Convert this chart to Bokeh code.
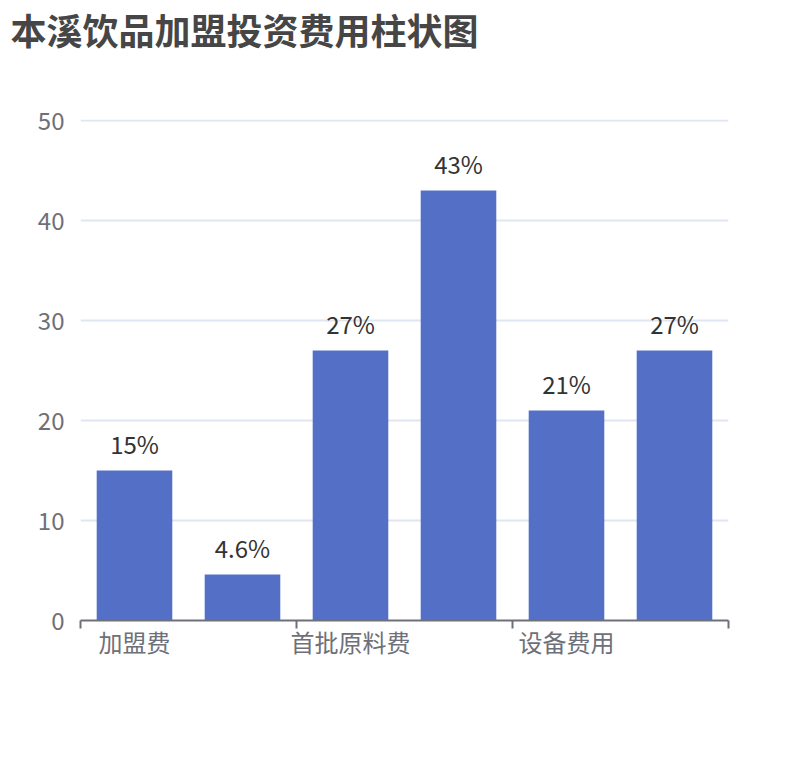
from bokeh.plotting import figure
from bokeh.layouts import column
from bokeh.models import ColumnDataSource, FixedTicker, Range1d
from bokeh.core.properties import value
from bokeh.embed import file_html
from bokeh.resources import INLINE

title = "本溪饮品加盟投资费用柱状图"
categories = ["加盟费", "保证金", "首批原料费", "装修费用", "设备费用", "其他费用"]
amounts = [15, 4.6, 27, 43, 21, 27]
y_ticks = [0, 10, 20, 30, 40, 50]
label_every = 2

FONT = "Noto Sans CJK SC"
AXIS_GRAY = "#6e7079"
WIDTH = 788

# title strip; its frame lines up with the chart below, so shift the title left
head = figure(width=WIDTH, height=99, min_border=0,
              x_axis_location=None, y_axis_location=None,
              x_range=Range1d(0, 1), y_range=Range1d(0, 1),
              output_backend="svg", toolbar_location=None, tools="")
head.grid.visible = False
head.outline_line_color = None
head.title.text = title
head.title.align = "left"
head.title.offset = -70
head.title.standoff = 0
head.title.text_font = FONT
head.title.text_font_size = "36px"
head.title.text_font_style = "bold"
head.title.text_color = "#464646"

centers = [i + 0.5 for i in range(len(categories))]
source = ColumnDataSource(data=dict(
    x=centers,
    top=amounts,
    label=[f"{v:g}%" for v in amounts],
))

p = figure(frame_width=648, frame_height=501,
           min_border_left=80, min_border_right=60,
           min_border_top=20, min_border_bottom=130,
           x_range=Range1d(0, len(categories)), y_range=Range1d(0, 50.1),
           output_backend="svg", toolbar_location=None, tools="")
p.outline_line_color = None
p.background_fill_color = "white"
p.border_fill_color = "white"

p.vbar(x="x", top="top", width=0.7, source=source,
       fill_color="#5470c6", line_color=None)
p.text(x="x", y="top", text="label", source=source,
       text_align="center", text_baseline="bottom", y_offset=-10,
       text_font=value(FONT), text_font_size="24px", text_color="#333333")

# y axis
p.yaxis.ticker = FixedTicker(ticks=y_ticks)
p.yaxis.axis_line_color = None
p.yaxis.major_tick_line_color = None
p.yaxis.major_tick_out = 0
p.yaxis.major_tick_in = 0
p.yaxis.minor_tick_line_color = None
p.yaxis.major_label_standoff = 16
p.yaxis.major_label_text_font = FONT
p.yaxis.major_label_text_font_size = "24px"
p.yaxis.major_label_text_color = AXIS_GRAY

p.ygrid.ticker = FixedTicker(ticks=y_ticks)
p.ygrid.grid_line_color = "#e0e6f1"
p.ygrid.grid_line_width = 2
p.xgrid.grid_line_color = None

# x axis: labels every other category, ticks on band boundaries
shown = list(range(0, len(categories), label_every))
boundaries = list(range(0, len(categories) + 1, label_every))
p.xaxis.ticker = FixedTicker(ticks=[centers[i] for i in shown],
                             minor_ticks=boundaries)
p.xaxis.major_label_overrides = {centers[i]: categories[i] for i in shown}
p.xaxis.axis_line_color = AXIS_GRAY
p.xaxis.axis_line_width = 2
p.xaxis.major_tick_line_color = None
p.xaxis.major_tick_in = 0
p.xaxis.major_tick_out = 0
p.xaxis.minor_tick_line_color = AXIS_GRAY
p.xaxis.minor_tick_line_width = 2
p.xaxis.minor_tick_in = 0
p.xaxis.minor_tick_out = 8
p.xaxis.major_label_standoff = -5
p.xaxis.major_label_text_font = FONT
p.xaxis.major_label_text_font_size = "24px"
p.xaxis.major_label_text_color = AXIS_GRAY

layout = column(head, p)
open("out.html", "w").write(file_html(layout, INLINE))
